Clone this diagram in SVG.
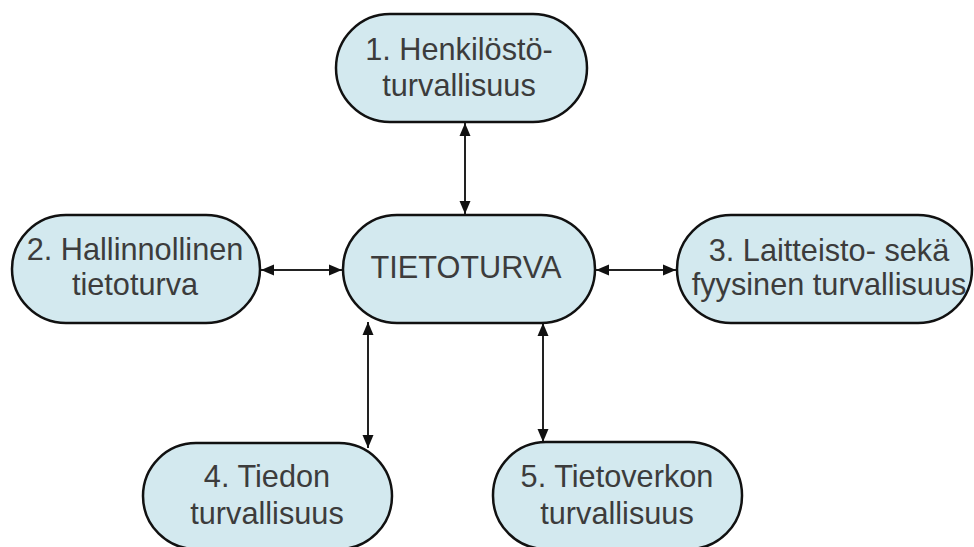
<svg xmlns="http://www.w3.org/2000/svg" width="974" height="547" viewBox="0 0 974 547">
<defs>
<marker id="arr" markerUnits="userSpaceOnUse" markerWidth="13" markerHeight="13" viewBox="0 0 13 13" refX="13" refY="6.5" orient="auto-start-reverse">
<path d="M0,1 L13,6.5 L0,12 Z" fill="#111"/>
</marker>
</defs>
<style>
.node rect{fill:#d3e9ef;stroke:#111;stroke-width:2.5}
.node text{font-family:"Liberation Sans",Arial,sans-serif;font-size:30.7px;fill:#3c3c3c;text-anchor:middle}
.conn line{stroke:#222;stroke-width:2;marker-start:url(#arr);marker-end:url(#arr)}
</style>
<rect width="974" height="547" fill="#fff"/>
<g id="connectors" class="conn">
<line x1="465" y1="123" x2="465" y2="214"/>
<line x1="261" y1="270" x2="342" y2="270"/>
<line x1="596" y1="270" x2="676" y2="270"/>
<line x1="368" y1="322" x2="368" y2="448"/>
<line x1="543" y1="323" x2="543" y2="442"/>
</g>
<g id="n1" class="node">
<rect x="336" y="14" width="251" height="108" rx="54"/>
<text x="459" y="60">1. Henkilöstö-</text>
<text x="459" y="96">turvallisuus</text>
</g>
<g id="n2" class="node">
<rect x="12" y="215" width="248" height="108" rx="54"/>
<text x="135" y="260">2. Hallinnollinen</text>
<text x="135" y="295">tietoturva</text>
</g>
<g id="center" class="node">
<rect x="343" y="215" width="252" height="108" rx="54"/>
<text x="466" y="278">TIETOTURVA</text>
</g>
<g id="n3" class="node">
<rect x="677" y="215" width="295" height="108" rx="54"/>
<text x="829" y="261">3. Laitteisto- sekä</text>
<text x="829" y="295">fyysinen turvallisuus</text>
</g>
<g id="n4" class="node">
<rect x="143" y="443" width="249" height="106" rx="53"/>
<text x="267" y="487">4. Tiedon</text>
<text x="267" y="524">turvallisuus</text>
</g>
<g id="n5" class="node">
<rect x="493" y="442" width="249" height="107" rx="53"/>
<text x="617" y="487">5. Tietoverkon</text>
<text x="617" y="524">turvallisuus</text>
</g>
</svg>
